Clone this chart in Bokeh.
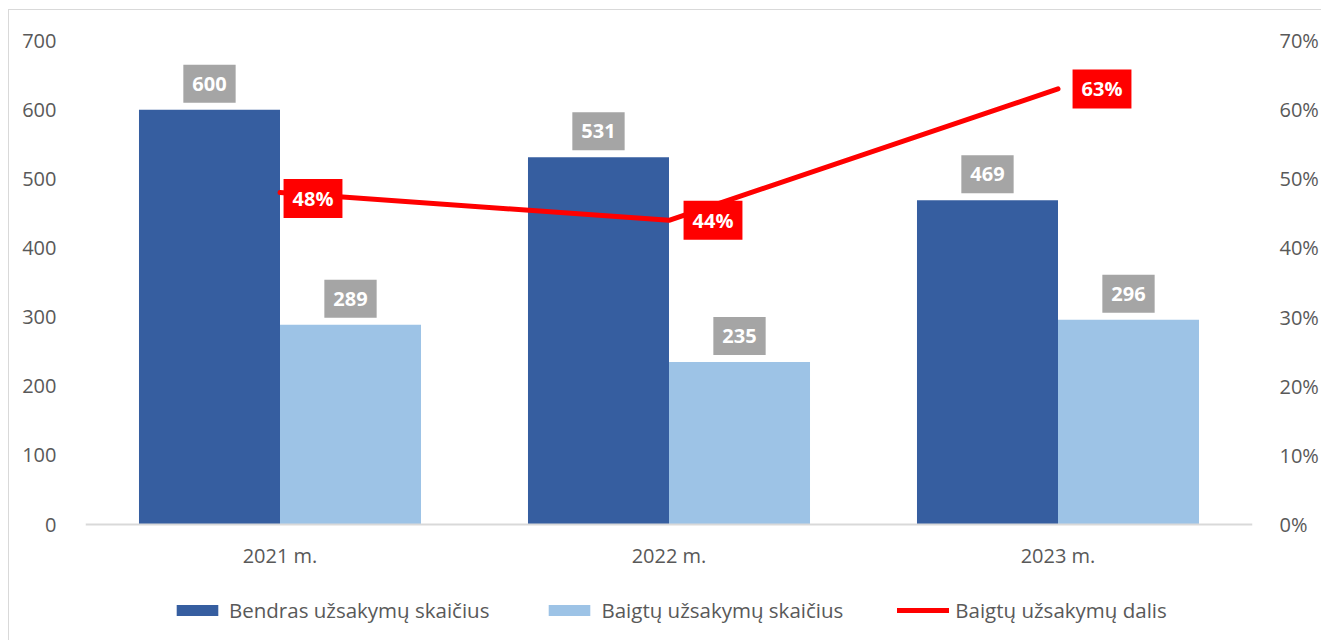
from bokeh.plotting import figure
from bokeh.models import (ColumnDataSource, FactorRange, Range1d, LinearAxis, FixedTicker,
                          NumeralTickFormatter, Legend, LegendItem)
from bokeh.transform import dodge
from bokeh.core.properties import value
from bokeh.embed import file_html
from bokeh.resources import INLINE

# ---- data ----
categories = ["2021 m.", "2022 m.", "2023 m."]
total_orders = [600, 531, 469]
completed_orders = [289, 235, 296]
completed_share = [0.48, 0.44, 0.63]
left_ticks = [0, 100, 200, 300, 400, 500, 600, 700]
right_ticks = [0.0, 0.1, 0.2, 0.3, 0.4, 0.5, 0.6, 0.7]
series_names = ["Bendras užsakymų skaičius", "Baigtų užsakymų skaičius", "Baigtų užsakymų dalis"]

# ---- style ----
FONT = "Open Sans"
TEXT = "#595959"
DARK = "#365EA0"
LIGHT = "#9DC3E6"
RED = "#FF0000"
GREY_BOX = "#A5A5A5"
AXIS_GREY = "#D9D9D9"
share_label_dx = [33, 44, 44]
share_label_dy = [6, 0, 0]

# layout: the frame runs from the top of the value scale down to the figure bottom,
# leaving room under the zero line for the category labels and the legend
W, H = 1313, 631
TOP, LEFT, RIGHT = 30, 76, 70
PLOT_PX = 484            # pixels from 0 to 700
BELOW_PX = H - TOP - PLOT_PX
y_max = 700
y_min = -y_max * BELOW_PX / PLOT_PX
pct_max = 0.7
pct_min = -pct_max * BELOW_PX / PLOT_PX

src = ColumnDataSource(dict(
    cat=categories,
    total=total_orders,
    done=completed_orders,
    share=completed_share,
    total_lbl=[str(v) for v in total_orders],
    done_lbl=[str(v) for v in completed_orders],
    share_lbl=[f"{round(v * 100)}%" for v in completed_share],
    share_dx=share_label_dx,
    share_dy=share_label_dy,
))

p = figure(x_range=FactorRange(*categories), y_range=Range1d(y_min, y_max),
           width=W, height=H, output_backend="svg", toolbar_location=None,
           min_border_left=LEFT, min_border_right=RIGHT, min_border_top=TOP, min_border_bottom=0)
p.styles = {"margin-left": "8px", "margin-top": "9px",
            "border-top": "1px solid #D9D9D9", "border-left": "1px solid #D9D9D9"}
p.outline_line_color = None
p.xgrid.visible = False
p.ygrid.visible = False
p.background_fill_color = "white"
p.border_fill_color = "white"

p.extra_y_ranges = {"pct": Range1d(pct_min, pct_max)}

# left axis
yax = p.yaxis[0]
yax.ticker = FixedTicker(ticks=left_ticks)
yax.axis_line_color = None
yax.major_tick_line_color = None
yax.minor_tick_line_color = None
yax.major_label_standoff = 23
yax.major_label_text_font = FONT
yax.major_label_text_font_size = "20px"
yax.major_label_text_color = TEXT

# right axis
rax = LinearAxis(y_range_name="pct", ticker=FixedTicker(ticks=right_ticks),
                 formatter=NumeralTickFormatter(format="0%"))
rax.axis_line_color = None
rax.major_tick_line_color = None
rax.minor_tick_line_color = None
rax.major_label_standoff = 21
rax.major_label_text_font = FONT
rax.major_label_text_font_size = "20px"
rax.major_label_text_color = TEXT
p.add_layout(rax, "right")

# category axis sits on the zero line
xax = p.xaxis[0]
xax.fixed_location = 0
xax.axis_line_color = AXIS_GREY
xax.axis_line_width = 2
xax.major_tick_line_color = None
xax.minor_tick_line_color = None
xax.major_label_standoff = 11
xax.major_label_text_font = FONT
xax.major_label_text_font_size = "20px"
xax.major_label_text_color = TEXT

BW = 0.3625
r1 = p.vbar(x=dodge("cat", -BW / 2, range=p.x_range), top="total", width=BW, source=src,
            fill_color=DARK, line_color=None)
r2 = p.vbar(x=dodge("cat", BW / 2, range=p.x_range), top="done", width=BW, source=src,
            fill_color=LIGHT, line_color=None)
r3 = p.line(x="cat", y="share", y_range_name="pct", source=src, line_color=RED,
            line_width=5, line_cap="round", line_join="round")

common = dict(text_font=value(FONT), text_font_style="bold", text_font_size="20px",
              text_color="white", text_baseline="middle", source=src)
p.text(x=dodge("cat", -BW / 2, range=p.x_range), y="total", text="total_lbl",
       text_align="center", y_offset=-26, padding=(9, 12),
       background_fill_color=GREY_BOX, **common)
p.text(x=dodge("cat", BW / 2, range=p.x_range), y="done", text="done_lbl",
       text_align="center", y_offset=-26, padding=(9, 12),
       background_fill_color=GREY_BOX, **common)
p.text(x="cat", y="share", text="share_lbl", y_range_name="pct",
       text_align="center", x_offset="share_dx", y_offset="share_dy", padding=(9, 6),
       background_fill_color=RED, **common)

legend = Legend(items=[LegendItem(label=series_names[0], renderers=[r1]),
                       LegendItem(label=series_names[1], renderers=[r2]),
                       LegendItem(label=series_names[2], renderers=[r3])],
                orientation="horizontal", location=(86, 17),
                glyph_width=52, glyph_height=14, label_standoff=6, spacing=54,
                padding=0, margin=0, border_line_color=None, background_fill_alpha=0,
                label_text_font=FONT, label_text_font_size="20.5px", label_text_color=TEXT)
p.add_layout(legend)

open("out.html", "w").write(file_html(p, INLINE))
